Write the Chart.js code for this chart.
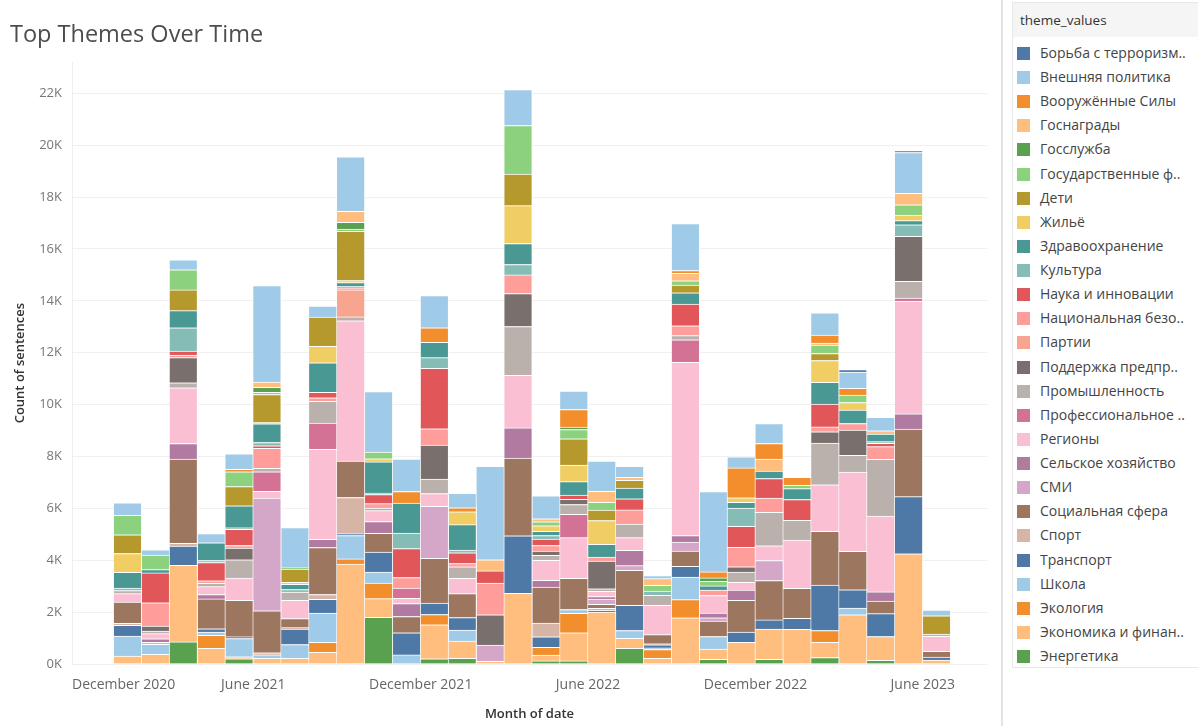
<!DOCTYPE html>
<html>
<head>
<meta charset="utf-8">
<script src="https://cdn.jsdelivr.net/npm/chart.js@4/dist/chart.umd.min.js"></script>
<style>
  html, body { margin: 0; padding: 0; background: #fff; }
  #wrap { position: relative; width: 1198px; height: 726px; overflow: hidden; font-family: 'Open Sans', sans-serif; }
  #chart { position: absolute; left: 0; top: 0; }
  #sep { position: absolute; left: 1001px; top: 0; width: 2px; height: 726px; background: #e4e4e4; }
  #legend { position: absolute; left: 1012px; top: 2px; width: 190px; height: 666px; border: 1px solid #e8e8e8; box-sizing: border-box; }
  #legend .head { position: absolute; left: 0; top: 0; right: 0; height: 34px; background: #f5f5f5; color: #333; font-size: 13.5px; line-height: 34px; padding-left: 7px; }
  #legend .item { position: absolute; left: 4px; height: 20px; line-height: 20px; font-size: 14px; color: #444; white-space: nowrap; }
  #legend .box { display: inline-block; width: 13px; height: 13px; vertical-align: -2px; margin-right: 10px; }
</style>
</head>
<body>
<div id="wrap">
  <canvas id="chart" width="1000" height="726"></canvas>
  <div id="sep"></div>
  <div id="legend"></div>
</div>
<script>
// Months Jan 2021 .. Jun 2023 (one stacked bar per month)
const months = ['2021-01','2021-02','2021-03','2021-04','2021-05','2021-06','2021-07','2021-08','2021-09','2021-10','2021-11','2021-12',
                '2022-01','2022-02','2022-03','2022-04','2022-05','2022-06','2022-07','2022-08','2022-09','2022-10','2022-11','2022-12',
                '2023-01','2023-02','2023-03','2023-04','2023-05','2023-06'];

// Axis tick labels (month offset from Jan 2021, text)
const tickMonths = [-1, 5, 11, 17, 23, 29];
const tickLabels = ['December 2020', 'June 2021', 'December 2021', 'June 2022', 'December 2022', 'June 2023'];
const yTicks = [0, 2000, 4000, 6000, 8000, 10000, 12000, 14000, 16000, 18000, 20000, 22000];

// Theme names as shown in the legend
const themes = ['Борьба с терроризм..','Внешняя политика','Вооружённые Силы','Госнаграды','Госслужба','Государственные ф..',
                'Дети','Жильё','Здравоохранение','Культура','Наука и инновации','Национальная безо..','Партии',
                'Поддержка предпр..','Промышленность','Профессиональное ..','Регионы','Сельское хозяйство','СМИ',
                'Социальная сфера','Спорт','Транспорт','Школа','Экология','Экономика и финан..','Энергетика'];

const themeColors = ['#4e79a7','#a0cbe8','#f28e2b','#ffbe7d','#59a14f','#8cd17d','#b6992d','#f1ce63','#499894','#86bcb6',
                     '#e15759','#ff9d9a','#f7a58f','#79706e','#bab0ac','#d37295','#fabfd2','#b07aa1','#d4a6c8','#9d7660',
                     '#d7b5a6','#4e79a7','#a0cbe8','#f28e2b','#ffbe7d','#59a14f'];

// Count of sentences per theme per month
const terrorism   = [0,0,0,0,0,0,0,0,0,0,0,0,0,0,0,0,0,0,0,0,0,0,0,0,0,0,100,0,60,0];
const foreignPol  = [480,200,380,360,600,3720,1550,430,2100,2330,1250,1240,560,3600,1380,880,710,1160,420,120,1810,3100,430,770,0,860,620,520,1580,220];
const armedForces = [0,0,0,0,90,0,0,0,0,0,450,560,150,0,0,0,680,0,0,0,110,230,1150,600,310,310,260,0,0,0];
const awards      = [0,0,0,0,0,200,0,0,420,0,0,0,0,430,0,120,0,430,120,260,290,0,0,460,0,80,0,130,440,0];
const civilServ   = [0,0,0,0,0,200,0,0,260,0,0,0,0,0,0,0,90,0,0,0,0,130,0,0,0,0,0,0,0,0];
const stateFin    = [750,560,780,0,570,80,50,0,90,260,0,0,0,0,1870,150,360,300,0,220,160,180,0,0,130,320,290,0,390,0];
const children    = [720,0,800,0,740,1080,510,1120,1900,0,0,0,0,0,1220,0,1010,400,300,0,300,0,0,0,0,270,0,0,0,710];
const housing     = [730,0,0,0,0,50,80,640,80,120,0,0,500,0,1460,220,640,920,0,0,0,0,180,0,0,840,290,0,220,0];
const health      = [600,130,660,680,850,720,200,1140,150,1200,1150,590,980,0,810,160,520,490,410,0,430,160,220,290,420,840,520,290,160,0];
const culture     = [100,0,900,80,60,130,100,0,50,60,600,410,100,0,400,130,0,0,0,160,0,0,700,0,0,0,0,60,440,0];
const science     = [0,1150,150,700,620,100,0,210,0,350,1120,2330,420,470,0,250,160,0,430,0,840,0,810,750,800,880,0,130,0,0];
const natSecurity = [0,900,100,100,100,770,0,130,80,170,400,630,120,1220,720,220,0,150,550,0,380,210,750,550,0,190,250,490,0,0];
const parties     = [0,0,0,0,0,0,0,0,1040,0,0,0,0,0,0,0,0,0,0,0,0,0,0,0,0,0,0,0,0,0];
const business    = [0,190,970,0,450,0,0,0,0,0,0,1310,0,1170,1270,160,200,1070,0,0,0,0,210,0,0,430,980,0,1740,0];
const industry    = [120,100,190,130,710,130,320,840,150,100,0,560,450,0,1880,190,380,100,520,390,160,0,390,1290,760,1610,640,2190,640,80];
const vocational  = [0,0,0,0,0,750,0,1010,0,0,400,0,0,0,0,0,900,0,0,0,870,0,0,0,0,0,0,0,120,0];
const regions     = [320,200,2150,300,860,260,700,3470,5410,420,200,490,590,0,2030,770,1570,200,490,1130,6680,680,300,570,1860,1800,3060,2920,4350,580];
const agriculture = [0,130,600,170,0,0,0,320,0,450,500,0,0,0,1160,260,0,100,590,0,250,180,400,0,0,0,0,350,580,0];
const media       = [0,0,0,0,0,4350,0,0,0,0,0,2010,0,630,0,0,0,200,180,0,350,130,0,770,0,0,0,0,0,0];
const social      = [820,0,3250,1150,1400,1620,350,1810,1400,730,630,1720,920,0,3000,1390,1200,150,1350,350,580,590,1220,1520,1160,2070,1480,490,2610,220];
const sport       = [80,80,100,0,0,80,50,190,1400,0,0,0,0,0,0,530,0,90,0,40,0,0,0,0,0,0,0,0,0,0];
const transport   = [410,0,750,130,70,0,600,530,70,770,850,440,480,0,2220,410,0,60,970,120,420,0,390,350,420,1750,700,880,2200,120];
const school      = [770,390,0,120,700,130,530,1120,900,420,350,0,430,0,0,0,150,0,300,60,870,480,0,0,0,0,260,0,0,0];
const ecology     = [0,0,0,510,0,0,0,390,200,600,0,400,0,0,0,300,750,0,0,340,700,0,0,0,0,450,0,0,0,0];
const economy     = [310,370,2950,600,80,220,220,450,3850,720,0,1310,660,100,2720,220,1080,2000,390,220,1780,400,840,1170,1340,590,1900,920,4250,150];
const energy      = [0,0,850,0,200,0,0,0,0,1800,0,200,220,0,0,120,120,0,600,0,0,180,0,180,0,250,0,140,0,0];

const series = [terrorism, foreignPol, armedForces, awards, civilServ, stateFin, children, housing, health, culture,
                science, natSecurity, parties, business, industry, vocational, regions, agriculture, media, social,
                sport, transport, school, ecology, economy, energy];

// Stack order: last legend entry sits at the bottom of each bar
const datasets = themes.map((name, k) => ({
  label: name,
  data: series[k].map((v, i) => ({ x: i + 0.5, y: v === 0 ? null : v })),
  backgroundColor: themeColors[k],
  borderColor: '#ffffff',
  borderWidth: { top: 1, right: 1, bottom: 0, left: 0 },
  borderSkipped: false,
  barPercentage: 1,
  categoryPercentage: 1
})).reverse();

Chart.defaults.font.family = "'Open Sans', sans-serif";

new Chart(document.getElementById('chart'), {
  type: 'bar',
  data: { datasets },
  options: {
    responsive: false,
    animation: false,
    devicePixelRatio: 1,
    layout: { padding: { left: 10, right: 10, top: 0, bottom: 4 } },
    plugins: {
      legend: { display: false },
      tooltip: { enabled: false },
      title: {
        display: true,
        text: 'Top Themes Over Time',
        align: 'start',
        color: '#4d4d4d',
        font: { size: 23.5, weight: 'normal' },
        padding: { top: 21, bottom: 13 }
      }
    },
    scales: {
      x: {
        type: 'linear',
        stacked: true,
        offset: false,
        min: -1.5,
        max: 31.3,
        grid: { display: false, offset: false, drawTicks: false },
        border: { display: false },
        afterBuildTicks(scale) {
          // first label pinned to the start of the axis, trailing blank tick keeps the rest centred
          const t = tickMonths.map((v, i) => ({ value: i === 0 ? scale.min : v }));
          t.push({ value: scale.max });
          scale.ticks = t;
        },
        afterFit(scale) { scale.height = 58; },
        ticks: {
          autoSkip: false,
          maxRotation: 0,
          align: 'inner',
          padding: 13,
          color: '#666',
          font: { size: 14 },
          callback(value, index) { return index < tickLabels.length ? tickLabels[index] : ''; }
        },
        title: {
          display: true,
          text: 'Month of date',
          color: '#333',
          font: { size: 13, weight: '600' },
          padding: { top: 0, bottom: 0 }
        }
      },
      y: {
        stacked: true,
        min: 0,
        max: 23200,
        grid: { color: '#f0f0f0', drawTicks: false },
        border: { display: true, color: '#eeeeee' },
        afterBuildTicks(scale) {
          scale.ticks = yTicks.map(v => ({ value: v }));
        },
        afterFit(scale) { scale.width = 62; },
        ticks: {
          autoSkip: false,
          padding: 10,
          color: '#777',
          font: { size: 13 },
          callback(value) { return (value / 1000) + 'K'; }
        },
        title: {
          display: true,
          text: 'Count of sentences',
          color: '#333',
          font: { size: 13, weight: '600' },
          padding: { top: 2, bottom: 0 }
        }
      }
    }
  }
});

// Legend panel
const legend = document.getElementById('legend');
const head = document.createElement('div');
head.className = 'head';
head.textContent = 'theme_values';
legend.appendChild(head);
themes.forEach((name, k) => {
  const item = document.createElement('div');
  item.className = 'item';
  item.style.top = (40 + k * 24.12) + 'px';
  const box = document.createElement('span');
  box.className = 'box';
  box.style.background = themeColors[k];
  item.appendChild(box);
  item.appendChild(document.createTextNode(name));
  legend.appendChild(item);
});
</script>
</body>
</html>
